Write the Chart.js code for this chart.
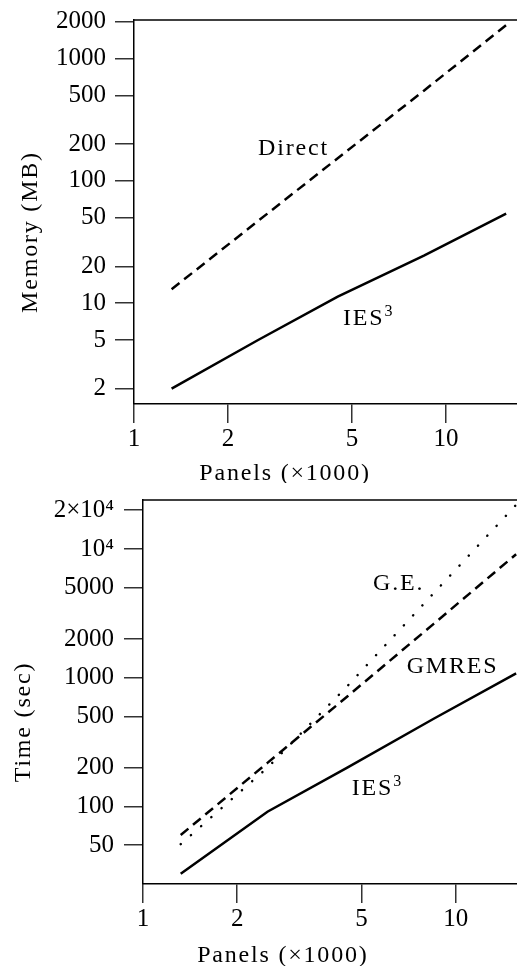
<!DOCTYPE html>
<html>
<head>
<meta charset="utf-8">
<script src="https://cdn.jsdelivr.net/npm/chart.js@4.4.0/dist/chart.umd.min.js"></script>
<style>
  html, body { margin: 0; padding: 0; background: #fff; }
  canvas { display: block; }
</style>
</head>
<body>
<canvas id="memChart" width="517" height="483"></canvas>
<canvas id="timeChart" width="517" height="483"></canvas>
<script>
// panels in thousands
const panels = [1.32, 2.5, 4.5, 8.5, 15.6];

// memory (MB)
const memDirect = [13, 47, 153, 545, 1870];
const memIES = [2.0, 5.0, 11.3, 24.5, 54];

// time (sec)
const timeGE = [51, 200, 860, 4530, 22000];
const timeGMRES = [60, 218, 715, 2620, 9100];
const timeIES = [30, 91, 200, 480, 1080];

const panelTicks = [1, 2, 5, 10];
const memTicks = [2, 5, 10, 20, 50, 100, 200, 500, 1000, 2000];
const timeTicks = [50, 100, 200, 500, 1000, 2000, 5000, 10000, 20000];
const timeTickLabels = ["50", "100", "200", "500", "1000", "2000", "5000", "10⁴", "2×10⁴"];

const serif = '"Liberation Serif", "Times New Roman", serif';

function textPlugin(t) {
    return {
        id: "texts",
        afterDraw(chart) {
            const ctx = chart.ctx;
            const a = chart.chartArea;
            const x = chart.scales.x, y = chart.scales.y;
            ctx.save();
            // top frame line
            ctx.strokeStyle = "#000";
            ctx.lineWidth = 1.5;
            ctx.beginPath();
            ctx.moveTo(a.left, a.top);
            ctx.lineTo(a.right, a.top);
            ctx.stroke();

            ctx.fillStyle = "#000";
            ctx.textBaseline = "alphabetic";
            ctx.letterSpacing = "1.8px";
            t.labels.forEach(function (l) {
                const px = x.getPixelForValue(l.at[0]);
                const py = y.getPixelForValue(l.at[1]);
                ctx.font = "24px " + serif;
                ctx.textAlign = "left";
                ctx.fillText(l.text, px, py);
                if (l.sup) {
                    const w = ctx.measureText(l.text).width;
                    ctx.font = "16px " + serif;
                    ctx.fillText(l.sup, px + w, py - 9);
                }
            });

            ctx.font = "24px " + serif;
            ctx.textAlign = "center";
            ctx.fillText(t.xTitle, x.getPixelForValue(t.xTitleAt), a.bottom + t.xTitleDy);

            ctx.translate(t.yTitleX, (a.top + a.bottom) / 2 + t.yTitleDy);
            ctx.rotate(-Math.PI / 2);
            ctx.fillText(t.yTitle, 0, 0);
            ctx.restore();
        }
    };
}

function makeChart(id, cfg) {
    return new Chart(document.getElementById(id), {
        type: "line",
        data: {
            datasets: cfg.series.map(function (s) {
                return {
                    data: panels.map(function (p, i) { return { x: p, y: s.values[i] }; }),
                    borderColor: "#000",
                    borderWidth: s.width,
                    borderDash: s.dash,
                    borderCapStyle: s.cap || "butt",
                    pointRadius: 0,
                    tension: 0,
                    fill: false
                };
            })
        },
        options: {
            responsive: false,
            animation: false,
            devicePixelRatio: 1,
            layout: { padding: { top: cfg.top, left: 0, right: 0, bottom: 0 } },
            plugins: { legend: { display: false }, tooltip: { enabled: false } },
            scales: {
                x: {
                    type: "logarithmic",
                    min: 1,
                    max: cfg.xMax,
                    afterBuildTicks: function (s) { s.ticks = panelTicks.map(function (v) { return { value: v }; }); },
                    afterFit: function (s) {
                        s.height = cfg.xHeight;
                        s.paddingLeft = 0; s.paddingRight = 0;
                    },
                    ticks: {
                        callback: function (v) { return String(v); },
                        autoSkip: false, maxRotation: 0, padding: 1,
                        color: "#000", font: { family: serif, size: 25 }
                    },
                    grid: { drawOnChartArea: false, tickLength: 19, color: "#333", lineWidth: 1.5 },
                    border: { color: "#000", width: 1.5 }
                },
                y: {
                    type: "logarithmic",
                    min: cfg.yMin,
                    max: cfg.yMax,
                    afterBuildTicks: function (s) { s.ticks = cfg.yTicks.map(function (v) { return { value: v }; }); },
                    afterFit: function (s) {
                        s.width = cfg.yWidth;
                        s.paddingTop = 0; s.paddingBottom = 0;
                    },
                    ticks: {
                        callback: function (v) { return cfg.yLabels[cfg.yTicks.indexOf(v)]; },
                        autoSkip: false, padding: cfg.yPad,
                        color: "#000", font: { family: serif, size: 25 }
                    },
                    grid: { drawOnChartArea: false, tickLength: 19, color: "#333", lineWidth: 1.5 },
                    border: { color: "#000", width: 1.5 }
                }
            }
        },
        plugins: [textPlugin(cfg.texts)]
    });
}

makeChart("memChart", {
    top: 20, xMax: 16.9, xHeight: 79, yWidth: 134, yPad: 9,
    yMin: 1.5, yMax: 2060,
    yTicks: memTicks, yLabels: memTicks.map(String),
    series: [
        { values: memDirect, width: 2.5, dash: [10, 6] },
        { values: memIES, width: 2.5, dash: [] }
    ],
    texts: {
        labels: [
            { text: "Direct", at: [2.5, 162] },
            { text: "IES", sup: "3", at: [4.68, 6.6] }
        ],
        xTitle: "Panels (×1000)", xTitleAt: 3.05, xTitleDy: 76,
        yTitle: "Memory (MB)", yTitleX: 37, yTitleDy: 20
    }
});

makeChart("timeChart", {
    top: 17, xMax: 15.7, xHeight: 82, yWidth: 143, yPad: 10,
    yMin: 25, yMax: 24000,
    yTicks: timeTicks, yLabels: timeTickLabels,
    series: [
        { values: timeGE, width: 2.5, dash: [0.1, 13.5], cap: "round" },
        { values: timeGMRES, width: 2.5, dash: [10, 6] },
        { values: timeIES, width: 2.5, dash: [] }
    ],
    texts: {
        labels: [
            { text: "G.E.", at: [5.44, 4810] },
            { text: "GMRES", at: [6.97, 1088] },
            { text: "IES", sup: "3", at: [4.65, 123] }
        ],
        xTitle: "Panels (×1000)", xTitleAt: 2.8, xTitleDy: 78,
        yTitle: "Time (sec)", yTitleX: 30, yTitleDy: 30
    }
});
</script>
</body>
</html>
